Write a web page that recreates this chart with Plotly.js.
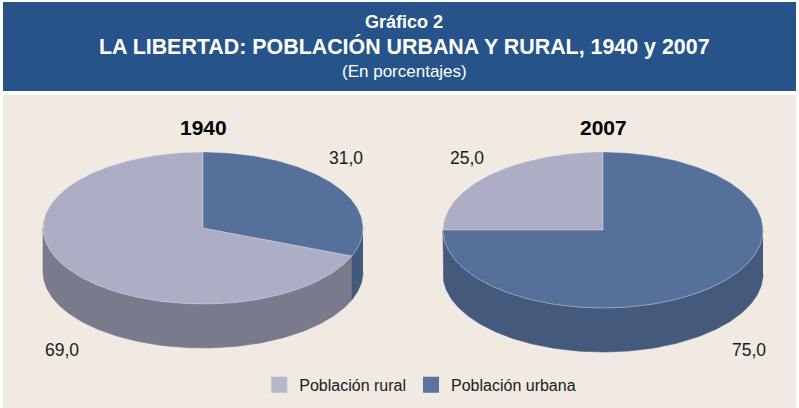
<!DOCTYPE html>
<html>
<head>
<meta charset="utf-8">
<script src="https://cdn.plot.ly/plotly-3.0.1.min.js"></script>
<style>html,body{margin:0;padding:0;background:#fff;}#chart{width:799px;height:408px;}</style>
</head>
<body>
<div id="chart"></div>
<script>
// ---- data ----
const categories = ["Población rural", "Población urbana"];
const years = ["1940", "2007"];
const values1940 = [69.0, 31.0];
const values2007 = [25.0, 75.0];

// ---- styling / layout config ----
const topColors = ["#adadc5", "#55709b"];
const sideColors = ["#7a7a8d", "#445a7c"];
const legendColors = ["#b4b6cc", "#5a74a0"];
const pies = [
  {year: years[0], values: values1940, cx: 203, cy: 228, rx: 160, ry: 76, depth: 44,
   labelPos: [[62, 350], [346, 158]]},
  {year: years[1], values: values2007, cx: 603, cy: 230, rx: 160, ry: 78, depth: 44,
   labelPos: [[467, 158], [749, 350]]}
];

function pt(p, th, dy) {
  const r = th * Math.PI / 180;
  return [p.cx + p.rx * Math.sin(r), p.cy - p.ry * Math.cos(r) + (dy || 0)];
}
function arc(p, a, b, dy) {
  const xs = [], ys = [];
  const n = Math.max(2, Math.ceil(Math.abs(b - a)));
  for (let i = 0; i <= n; i++) {
    const q = pt(p, a + (b - a) * i / n, dy);
    xs.push(q[0]); ys.push(q[1]);
  }
  return [xs, ys];
}

const sideTraces = [], topTraces = [], annotations = [];
pies.forEach(p => {
  const total = p.values.reduce((s, v) => s + v, 0);
  // urban (index 1) starts at 12 o'clock going clockwise; rural fills the rest
  const urbanSpan = p.values[1] / total * 360;
  const spans = [[urbanSpan, 360], [0, urbanSpan]]; // [rural, urban]
  spans.forEach((sp, i) => {
    // side wall (front visible part 90..270)
    const a = Math.max(sp[0], 90), b = Math.min(sp[1], 270);
    if (b > a) {
      const t = arc(p, a, b, 0), bt = arc(p, b, a, p.depth);
      sideTraces.push({
        type: "scatter", mode: "lines", fill: "toself",
        x: t[0].concat(bt[0]), y: t[1].concat(bt[1]),
        fillcolor: sideColors[i], line: {width: 0.6, color: sideColors[i]},
        hoverinfo: "skip", showlegend: false
      });
    }
    const t = arc(p, sp[0], sp[1], 0);
    topTraces.push({
      type: "scatter", mode: "lines", fill: "toself",
      x: [p.cx].concat(t[0], [p.cx]), y: [p.cy].concat(t[1], [p.cy]),
      fillcolor: topColors[i], line: {width: 0.7, color: "rgba(225,225,235,0.6)"},
      name: categories[i], text: p.year + ": " + p.values[i].toFixed(1).replace(".", ","),
      hoverinfo: "text", showlegend: false
    });
    annotations.push({
      x: p.labelPos[i][0], y: p.labelPos[i][1], xref: "x", yref: "y",
      text: p.values[i].toFixed(1).replace(".", ","), showarrow: false,
      font: {family: "Liberation Sans, Arial, sans-serif", size: 17.5, color: "#1a1a1a"}
    });
  });
  annotations.push({
    x: p.cx, y: 127, xref: "x", yref: "y", text: "<b>" + p.year + "</b>", showarrow: false,
    font: {family: "Liberation Sans, Arial, sans-serif", size: 21, color: "#000"}
  });
});

const legendTraces = categories.map((c, i) => ({
  type: "scatter", mode: "markers", x: [null], y: [null], name: c,
  marker: {symbol: "square", size: 20, color: legendColors[i]}, hoverinfo: "skip"
}));

// header texts
const hdrFont = "Liberation Sans, Arial, sans-serif";
annotations.push(
  {x: 404, y: 22, xref: "x", yref: "y", showarrow: false, text: "<b>Gráfico 2</b>",
   font: {family: hdrFont, size: 18, color: "#fff"}},
  {x: 404, y: 46, xref: "x", yref: "y", showarrow: false,
   text: "<b>LA LIBERTAD: POBLACIÓN URBANA Y RURAL, 1940 y 2007</b>",
   font: {family: hdrFont, size: 21.4, color: "#fff"}},
  {x: 404, y: 71, xref: "x", yref: "y", showarrow: false, text: "(En porcentajes)",
   font: {family: hdrFont, size: 17, color: "#fff"}}
);

const layout = {
  width: 799, height: 408,
  margin: {l: 0, r: 0, t: 0, b: 0},
  paper_bgcolor: "#ffffff", plot_bgcolor: "rgba(0,0,0,0)",
  xaxis: {range: [0, 799], visible: false, fixedrange: true},
  yaxis: {range: [408, 0], visible: false, fixedrange: true},
  shapes: [
    {type: "rect", xref: "x", yref: "y", x0: 3, x1: 796, y0: 2, y1: 91, fillcolor: "#26548a", line: {width: 0}, layer: "below"},
    {type: "rect", xref: "x", yref: "y", x0: 3, x1: 796, y0: 95, y1: 408, fillcolor: "#f0eae3", line: {width: 0}, layer: "below"}
  ],
  annotations: annotations,
  showlegend: true,
  legend: {orientation: "h", x: 0.526, xanchor: "center", y: 0.015, yanchor: "bottom",
    bgcolor: "rgba(0,0,0,0)", font: {family: hdrFont, size: 16, color: "#1a1a1a"},
    itemsizing: "trace", traceorder: "normal"}
};

Plotly.newPlot("chart", sideTraces.concat(topTraces, legendTraces), layout, {displayModeBar: false, staticPlot: true});
</script>
</body>
</html>
